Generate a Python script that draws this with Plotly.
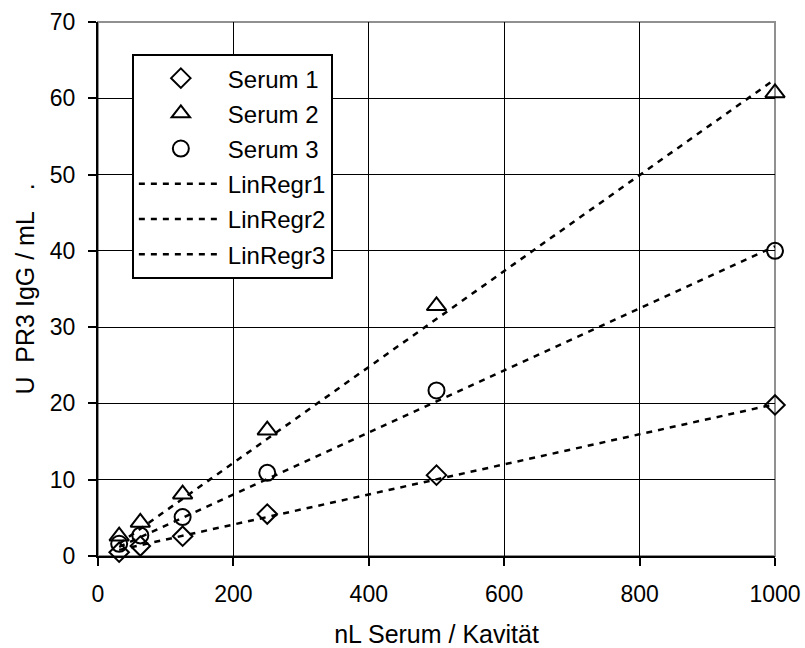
import plotly.graph_objects as go

# data
x_vol = [31.25, 62.5, 125, 250, 500, 1000]
serum1 = [0.5, 1.3, 2.6, 5.5, 10.6, 19.8]
serum2 = [2.6, 4.4, 8.1, 16.5, 32.8, 60.7]
serum3 = [1.6, 2.7, 5.1, 10.9, 21.7, 40.0]

regr_x = [31.25, 1000]
regr1 = [0.8, 19.9]
regr2 = [1.6, 62.5]
regr3 = [1.2, 40.6]

x_ticks = [0, 200, 400, 600, 800, 1000]
y_ticks = [0, 10, 20, 30, 40, 50, 60, 70]

FONT = "Liberation Sans, Arial, sans-serif"
NB = "\u00a0"

fig = go.Figure()
mline = dict(color="black", width=2)
fig.add_trace(go.Scatter(x=x_vol, y=serum1, mode="markers", name="Serum 1", legendgroup="a",
                         marker=dict(symbol="diamond-open", size=15, color="black", line=mline),
                         cliponaxis=False))
fig.add_trace(go.Scatter(x=x_vol, y=serum2, mode="markers", name="Serum 2", legendgroup="b",
                         marker=dict(symbol="triangle-up-open", size=17, color="black", line=mline),
                         cliponaxis=False))
fig.add_trace(go.Scatter(x=x_vol, y=serum3, mode="markers", name="Serum 3", legendgroup="c",
                         marker=dict(symbol="circle-open", size=16, color="black", line=mline),
                         cliponaxis=False))
dline = dict(color="black", width=2.5, dash="6px,6px")
for nm, yy, g in [("LinRegr1", regr1, "d"), ("LinRegr2", regr2, "e"), ("LinRegr3", regr3, "f")]:
    fig.add_trace(go.Scatter(x=regr_x, y=yy, mode="lines", name=nm, line=dline, legendgroup=g))

fig.update_layout(
    width=805, height=648,
    margin=dict(l=98, r=30, t=22, b=92),
    paper_bgcolor="white", plot_bgcolor="white",
    font=dict(family=FONT, size=23, color="black"),
    showlegend=True,
    legend=dict(x=0.050, y=0.940, xanchor="left", yanchor="top",
                bordercolor="black", borderwidth=2, bgcolor="white",
                font=dict(size=24), itemwidth=84,
                traceorder="grouped", tracegroupgap=1),
    shapes=[dict(type="rect", xref="paper", yref="paper", x0=0, x1=1, y0=0, y1=1,
                 line=dict(color="#909090", width=2), layer="below")],
)
fig.update_xaxes(range=[0, 1000], tickvals=x_ticks, showgrid=True, gridcolor="black", gridwidth=1,
                 showline=True, linecolor="black", linewidth=2, ticks="outside", ticklen=8,
                 tickcolor="black", tickwidth=2, zeroline=False, automargin=False,
                 ticklabelstandoff=8, ticklabeloverflow="allow",
                 title=dict(text="nL Serum / Kavität", font=dict(size=25), standoff=20))
fig.update_yaxes(range=[0, 70], tickvals=y_ticks, showgrid=True, gridcolor="black", gridwidth=1,
                 showline=True, linecolor="black", linewidth=2, ticks="outside", ticklen=8,
                 tickcolor="black", tickwidth=2, zeroline=False, automargin=False,
                 ticklabelstandoff=8, ticklabeloverflow="allow",
                 title=dict(text="U" + NB * 2 + "PR3 IgG / mL" + NB * 3 + ".", font=dict(size=25),
                            standoff=8))

fig.write_html("out.html", config={"displayModeBar": False},
               post_script="document.body.style.margin='0';document.body.style.overflow='hidden';")
